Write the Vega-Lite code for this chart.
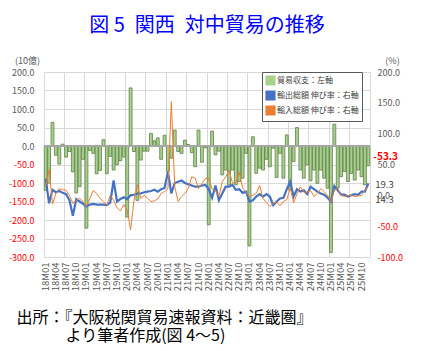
{
  "$schema": "https://vega.github.io/schema/vega-lite/v6.json",
  "width": 326,
  "height": 185,
  "autosize": {"type": "none"},
  "padding": {"left": 44, "top": 72, "right": 52, "bottom": 94},
  "config": {
    "view": {"stroke": null},
    "font": "Noto Sans CJK JP",
    "axis": {"labelOverlap": false},
    "locale": {"number": {"decimal": ".", "thousands": ",", "grouping": [3], "currency": ["", ""], "minus": "-"}}
  },
  "title": {
    "text": "図 5\u2002関西\u2002対中貿易の推移",
    "anchor": "middle",
    "fontSize": 20,
    "font": "Noto Sans CJK JP",
    "fontWeight": "normal",
    "color": "#0000ff",
    "offset": 20
  },
  "data": {"values": [
    {"m":"18M01","bal":-120,"exp":27,"imp":15},{"m":"18M02","bal":-100,"exp":-13,"imp":42},{"m":"18M03","bal":64,"exp":9,"imp":-14},{"m":"18M04","bal":-25,"exp":5,"imp":3},{"m":"18M05","bal":-49,"exp":7,"imp":11},{"m":"18M06","bal":5,"exp":4,"imp":9},{"m":"18M07","bal":-30,"exp":2,"imp":8},{"m":"18M08","bal":-15,"exp":-8,"imp":0},{"m":"18M09","bal":-70,"exp":-33,"imp":-13},{"m":"18M10","bal":-127,"exp":-6,"imp":-8},{"m":"18M11","bal":-110,"exp":-10,"imp":-5},{"m":"18M12","bal":-36,"exp":-14,"imp":-10},
    {"m":"19M01","bal":-222,"exp":-18,"imp":-18},{"m":"19M02","bal":-12,"exp":-15,"imp":-5},{"m":"19M03","bal":-20,"exp":-14,"imp":8},{"m":"19M04","bal":-75,"exp":-15,"imp":3},{"m":"19M05","bal":-66,"exp":-15,"imp":-5},{"m":"19M06","bal":17,"exp":-15,"imp":-10},{"m":"19M07","bal":-75,"exp":-16,"imp":-16},{"m":"19M08","bal":-28,"exp":-12,"imp":0},{"m":"19M09","bal":-65,"exp":24,"imp":-8},{"m":"19M10","bal":-50,"exp":-10,"imp":-20},{"m":"19M11","bal":-40,"exp":-6,"imp":-25},{"m":"19M12","bal":-30,"exp":-3,"imp":-15},
    {"m":"20M01","bal":-192,"exp":-6,"imp":-24},{"m":"20M02","bal":157,"exp":0,"imp":-56},{"m":"20M03","bal":-15,"exp":1,"imp":-8},{"m":"20M04","bal":-147,"exp":3,"imp":17},{"m":"20M05","bal":-38,"exp":3,"imp":-5},{"m":"20M06","bal":-14,"exp":5,"imp":0},{"m":"20M07","bal":-14,"exp":6,"imp":-5},{"m":"20M08","bal":34,"exp":7,"imp":-10},{"m":"20M09","bal":14,"exp":9,"imp":-9},{"m":"20M10","bal":22,"exp":6,"imp":-6},{"m":"20M11","bal":-36,"exp":10,"imp":3},{"m":"20M12","bal":29,"exp":12,"imp":6},
    {"m":"21M01","bal":-69,"exp":38,"imp":11},{"m":"21M02","bal":-33,"exp":3,"imp":152},{"m":"21M03","bal":43,"exp":20,"imp":14},{"m":"21M04","bal":-15,"exp":22,"imp":-10},{"m":"21M05","bal":-20,"exp":24,"imp":-2},{"m":"21M06","bal":16,"exp":20,"imp":3},{"m":"21M07","bal":4,"exp":18,"imp":11},{"m":"21M08","bal":-18,"exp":16,"imp":30},{"m":"21M09","bal":-56,"exp":14,"imp":28},{"m":"21M10","bal":43,"exp":14,"imp":11},{"m":"21M11","bal":-44,"exp":16,"imp":19},{"m":"21M12","bal":-5,"exp":17,"imp":27},
    {"m":"22M01","bal":-213,"exp":10,"imp":28},{"m":"22M02","bal":40,"exp":-4,"imp":10},{"m":"22M03","bal":-24,"exp":16,"imp":8},{"m":"22M04","bal":-14,"exp":-8,"imp":-2},{"m":"22M05","bal":-78,"exp":3,"imp":22},{"m":"22M06","bal":-65,"exp":14,"imp":30},{"m":"22M07","bal":-105,"exp":14,"imp":41},{"m":"22M08","bal":-65,"exp":17,"imp":20},{"m":"22M09","bal":-105,"exp":9,"imp":20},{"m":"22M10","bal":-96,"exp":10,"imp":38},{"m":"22M11","bal":-87,"exp":4,"imp":12},{"m":"22M12","bal":-20,"exp":6,"imp":5},
    {"m":"23M01","bal":-270,"exp":-10,"imp":-2},{"m":"23M02","bal":25,"exp":-8,"imp":0},{"m":"23M03","bal":-74,"exp":-2,"imp":3},{"m":"23M04","bal":-60,"exp":2,"imp":16},{"m":"23M05","bal":-65,"exp":-2,"imp":-5},{"m":"23M06","bal":-36,"exp":2,"imp":-12},{"m":"23M07","bal":-56,"exp":-2,"imp":-18},{"m":"23M08","bal":-6,"exp":-16,"imp":-13},{"m":"23M09","bal":-85,"exp":-10,"imp":-11},{"m":"23M10","bal":-20,"exp":-5,"imp":-17},{"m":"23M11","bal":-87,"exp":-4,"imp":-10},{"m":"23M12","bal":30,"exp":10,"imp":-7},
    {"m":"24M01","bal":-119,"exp":22,"imp":12},{"m":"24M02","bal":-42,"exp":-2,"imp":-12},{"m":"24M03","bal":50,"exp":10,"imp":2},{"m":"24M04","bal":-65,"exp":6,"imp":14},{"m":"24M05","bal":-87,"exp":8,"imp":5},{"m":"24M06","bal":-51,"exp":2,"imp":5},{"m":"24M07","bal":-94,"exp":14,"imp":8},{"m":"24M08","bal":-65,"exp":10,"imp":-2},{"m":"24M09","bal":-101,"exp":6,"imp":3},{"m":"24M10","bal":-65,"exp":3,"imp":11},{"m":"24M11","bal":-87,"exp":1,"imp":6},{"m":"24M12","bal":-114,"exp":-4,"imp":0},
    {"m":"25M01","bal":-288,"exp":-10,"imp":-10},{"m":"25M02","bal":59,"exp":15,"imp":8},{"m":"25M03","bal":-114,"exp":8,"imp":11},{"m":"25M04","bal":-83,"exp":1,"imp":0},{"m":"25M05","bal":-69,"exp":1,"imp":-2},{"m":"25M06","bal":-96,"exp":-2,"imp":0},{"m":"25M07","bal":-74,"exp":0,"imp":0},{"m":"25M08","bal":-92,"exp":2,"imp":-2},{"m":"25M09","bal":-65,"exp":1,"imp":-1},{"m":"25M10","bal":-83,"exp":6,"imp":0},{"m":"25M11","bal":-105,"exp":6,"imp":8},{"m":"25M12","bal":-53.3,"exp":19.3,"imp":14.3}
  ]},
  "resolve": {"scale": {"y": "independent"}, "axis": {"x": "independent", "y": "independent"}},
  "layer": [
    {
      "mark": {"type": "bar", "stroke": "#5e7f48", "strokeWidth": 0.8},
      "encoding": {
        "x": {
          "field": "m", "type": "ordinal", "sort": null,
          "scale": {"paddingInner": 0.15, "paddingOuter": 0.075},
          "axis": {
            "orient": "bottom",
            "values": ["18M01","18M04","18M07","18M10","19M01","19M04","19M07","19M10","20M01","20M04","20M07","20M10","21M01","21M04","21M07","21M10","22M01","22M04","22M07","22M10","23M01","23M04","23M07","23M10","24M01","24M04","24M07","24M10","25M01","25M04","25M07","25M10"],
            "labelAngle": -90,
            "labelFontSize": 9.5,
            "labelColor": "#595959",
            "labelPadding": 5,
            "labelOverlap": false,
            "ticks": false,
            "domain": false,
            "grid": false,
            "title": "出所：『大阪税関貿易速報資料：近畿圏』",
            "titleX": -28,
            "titleY": 52,
            "titleAlign": "left",
            "titleBaseline": "top",
            "titleFontSize": 16,
            "titleFontWeight": "normal",
            "titleColor": "#000000"
          }
        },
        "y": {
          "field": "bal", "type": "quantitative",
          "scale": {"domain": [-300, 200], "nice": false},
          "axis": {
            "orient": "left",
            "values": [-300, -250, -200, -150, -100, -50, 0, 50, 100, 150, 200],
            "format": ".1f",
            "labelFontSize": 9,
            "labelColor": {"condition": {"test": "datum.value < 0", "value": "#ff0000"}, "value": "#595959"},
            "labelPadding": 10,
            "labelOverlap": false,
            "labelFlush": false,
            "ticks": false,
            "domain": true,
            "domainColor": "#d9d9d9",
            "grid": true,
            "gridColor": "#d9d9d9",
            "title": "(10億)",
            "titleAngle": 0,
            "titleX": -17,
            "titleY": -12,
            "titleAlign": "center",
            "titleBaseline": "middle",
            "titleFontSize": 9,
            "titleFontWeight": "normal",
            "titleColor": "#595959"
          }
        },
        "color": {
          "datum": "貿易収支：左軸",
          "scale": {"domain": ["貿易収支：左軸", "輸出総額 伸び率：右軸", "輸入総額 伸び率：右軸"], "range": ["#a9d18e", "#4472c4", "#ed7d31"]},
          "legend": {
            "orient": "none",
            "legendX": 218,
            "legendY": 0,
            "title": null,
            "padding": 3,
            "strokeColor": "#595959",
            "fillColor": "#ffffff",
            "labelFontSize": 8,
            "labelColor": "#404040",
            "labelOffset": 1,
            "rowPadding": 0,
            "symbolSize": 75,
            "labelLimit": 200,
            "encode": {
              "legend": {"update": {"strokeWidth": {"value": 1.5}}},
              "symbols": {"update": {
                "shape": {"signal": "datum.value === '貿易収支：左軸' ? 'M-1.3,-0.5H1.3V0.5H-1.3Z' : 'M-1.3,0H1.3'"},
                "fill": {"signal": "datum.value === '貿易収支：左軸' ? '#a9d18e' : 'transparent'"},
                "stroke": {"signal": "datum.value === '貿易収支：左軸' ? '#5e7f48' : (datum.value === '輸出総額 伸び率：右軸' ? '#4472c4' : '#ed7d31')"},
                "strokeWidth": {"signal": "datum.value === '輸出総額 伸び率：右軸' ? 2.5 : 1"},
                "opacity": {"value": 1}
              }}
            }
          }
        }
      }
    },
    {
      "mark": {"type": "rule", "color": "#a6a6a6", "strokeWidth": 1.5},
      "encoding": {"y": {"datum": 0, "type": "quantitative", "scale": {"domain": [-300, 200], "nice": false}, "axis": null}}
    },
    {
      "transform": [{"filter": "datum.m === '25M12'"}],
      "mark": {"type": "text", "align": "left", "baseline": "middle", "dx": 5, "dy": -9, "fontSize": 10, "fontWeight": "bold", "color": "#ff0000"},
      "encoding": {
        "x": {"field": "m", "type": "ordinal", "sort": null, "scale": {"paddingInner": 0.15, "paddingOuter": 0.075}, "axis": null},
        "y": {"field": "bal", "type": "quantitative", "scale": {"domain": [-300, 200], "nice": false}, "axis": null},
        "text": {"field": "bal", "type": "quantitative", "format": ".1f"}
      }
    },
    {
      "mark": {"type": "line", "strokeWidth": 2.2},
      "encoding": {
        "x": {
          "field": "m", "type": "ordinal", "sort": null,
          "scale": {"paddingInner": 0.15, "paddingOuter": 0.075},
          "axis": {
            "orient": "bottom",
            "values": ["18M01","18M07","19M01","19M07","20M01","20M07","21M01","21M07","22M01","22M07","23M01","23M07","24M01","24M07","25M01","25M07"],
            "bandPosition": -0.088,
            "labels": false,
            "ticks": false,
            "domain": false,
            "grid": true,
            "gridColor": "#d9d9d9",
            "title": "より筆者作成(図 4～5)",
            "titleX": 21,
            "titleY": 70,
            "titleAlign": "left",
            "titleBaseline": "top",
            "titleFontSize": 16,
            "titleFontWeight": "normal",
            "titleColor": "#000000"
          }
        },
        "y": {
          "field": "exp", "type": "quantitative",
          "scale": {"domain": [-100, 200], "nice": false},
          "axis": {
            "orient": "right",
            "values": [-100, -50, 0, 50, 100, 150, 200],
            "format": ".1f",
            "labelFontSize": 9,
            "labelColor": {"condition": {"test": "datum.value < 0", "value": "#ff0000"}, "value": "#595959"},
            "labelPadding": 7,
            "labelOverlap": false,
            "labelFlush": false,
            "ticks": false,
            "domain": true,
            "domainColor": "#d9d9d9",
            "grid": false,
            "title": "(%)",
            "titleAngle": 0,
            "titleX": 22,
            "titleY": -12,
            "titleAlign": "center",
            "titleBaseline": "middle",
            "titleFontSize": 9,
            "titleFontWeight": "normal",
            "titleColor": "#595959"
          }
        },
        "color": {"datum": "輸出総額 伸び率：右軸"}
      }
    },
    {
      "mark": {"type": "line", "strokeWidth": 1},
      "encoding": {
        "x": {"field": "m", "type": "ordinal", "sort": null, "scale": {"paddingInner": 0.15, "paddingOuter": 0.075}, "axis": null},
        "y": {"field": "imp", "type": "quantitative", "scale": {"domain": [-100, 200], "nice": false}, "axis": null},
        "color": {"datum": "輸入総額 伸び率：右軸"}
      }
    },
    {
      "transform": [{"filter": "datum.m === '25M12'"}],
      "mark": {"type": "text", "align": "left", "baseline": "middle", "dx": 7, "dy": 2, "fontSize": 9.5, "color": "#404040"},
      "encoding": {
        "x": {"field": "m", "type": "ordinal", "sort": null, "scale": {"paddingInner": 0.15, "paddingOuter": 0.075}, "axis": null},
        "y": {"field": "exp", "type": "quantitative", "scale": {"domain": [-100, 200], "nice": false}, "axis": null},
        "text": {"field": "exp", "type": "quantitative", "format": ".1f"}
      }
    },
    {
      "transform": [{"filter": "datum.m === '25M12'"}],
      "mark": {"type": "text", "align": "left", "baseline": "middle", "dx": 7, "dy": 13, "fontSize": 9.5, "color": "#404040"},
      "encoding": {
        "x": {"field": "m", "type": "ordinal", "sort": null, "scale": {"paddingInner": 0.15, "paddingOuter": 0.075}, "axis": null},
        "y": {"field": "imp", "type": "quantitative", "scale": {"domain": [-100, 200], "nice": false}, "axis": null},
        "text": {"field": "imp", "type": "quantitative", "format": ".1f"}
      }
    }
  ]
}
